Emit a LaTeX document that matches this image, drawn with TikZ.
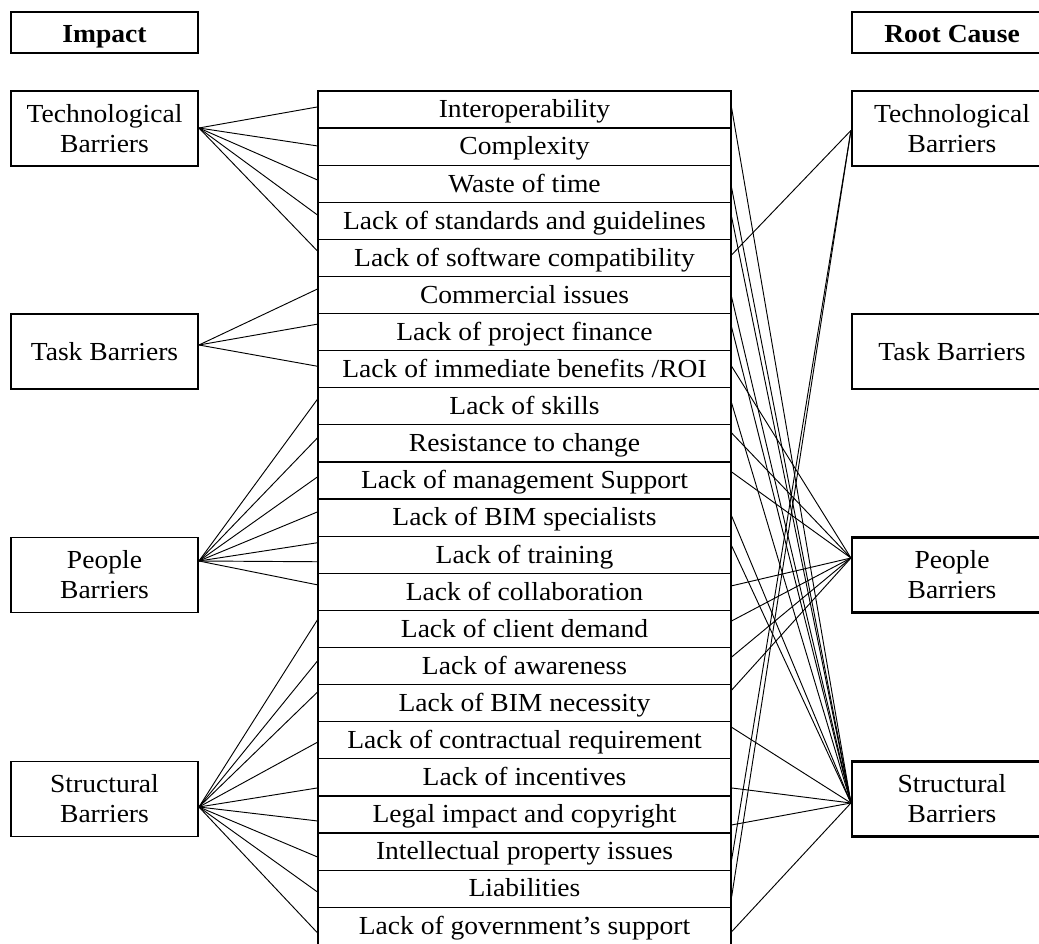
\documentclass[tikz,border=0pt]{standalone}
\usepackage{fontspec}
\setmainfont{Liberation Serif}[FakeStretch=1.06]
\usetikzlibrary{calc}
\begin{document}
\begin{tikzpicture}[x=0.75pt,y=-0.75pt,
  every node/.style={font=\fontsize{19.5}{22.5}\selectfont, text=black, inner sep=0pt},
  sidebox/.style={draw, line width=1.4pt, minimum width=140.25pt, minimum height=56.25pt, align=center},
  rsidebox/.style={sidebox, line width=1.6pt, minimum width=150pt},
  headbox/.style={draw, line width=1.4pt, minimum width=140.25pt, minimum height=30.75pt,
    text height=17pt, text depth=2pt, font=\fontsize{19.5}{22.5}\selectfont\bfseries},
  rowbox/.style={draw, line width=0.9pt, minimum width=309.75pt, minimum height=27.825pt,
    text height=16pt, text depth=3.5pt},
  conn/.style={line width=0.7pt}]
\clip (0,0) rectangle (1039,944);

% column headers
\node[headbox] (impact) at (104.5,32.5) {Impact};
\node[headbox, line width=1.6pt, minimum width=150pt] (root) at (952,32.5) {Root Cause};

% barrier categories, left (impact) and right (root cause)
\node[sidebox] (lT) at (104.5,128.5) {Technological\\Barriers};
\node[sidebox] (lK) at (104.5,351.5) {Task Barriers};
\node[sidebox] (lP) at (104.5,575) {People\\Barriers};
\node[sidebox] (lS) at (104.5,799) {Structural\\Barriers};
\node[rsidebox] (rT) at (952,128.5) {Technological\\Barriers};
\node[rsidebox] (rK) at (952,351.5) {Task Barriers};
\node[rsidebox] (rP) at (952,575) {People\\Barriers};
\node[rsidebox] (rS) at (952,799) {Structural\\Barriers};

% central list of barriers
\node[rowbox] (r1)  at (524.5,109.55) {Interoperability};
\node[rowbox] (r2)  at (524.5,146.65) {Complexity};
\node[rowbox] (r3)  at (524.5,183.75) {Waste of time};
\node[rowbox] (r4)  at (524.5,220.85) {Lack of standards and guidelines};
\node[rowbox] (r5)  at (524.5,257.95) {Lack of software compatibility};
\node[rowbox] (r6)  at (524.5,295.05) {Commercial issues};
\node[rowbox] (r7)  at (524.5,332.15) {Lack of project finance};
\node[rowbox] (r8)  at (524.5,369.25) {Lack of immediate benefits /ROI};
\node[rowbox] (r9)  at (524.5,406.35) {Lack of skills};
\node[rowbox] (r10) at (524.5,443.45) {Resistance to change};
\node[rowbox] (r11) at (524.5,480.55) {Lack of management Support};
\node[rowbox] (r12) at (524.5,517.65) {Lack of BIM specialists};
\node[rowbox] (r13) at (524.5,554.75) {Lack of training};
\node[rowbox] (r14) at (524.5,591.85) {Lack of collaboration};
\node[rowbox] (r15) at (524.5,628.95) {Lack of client demand};
\node[rowbox] (r16) at (524.5,666.05) {Lack of awareness};
\node[rowbox] (r17) at (524.5,703.15) {Lack of BIM necessity};
\node[rowbox] (r18) at (524.5,740.25) {Lack of contractual requirement};
\node[rowbox] (r19) at (524.5,777.35) {Lack of incentives};
\node[rowbox] (r20) at (524.5,814.45) {Legal impact and copyright};
\node[rowbox] (r21) at (524.5,851.55) {Intellectual property issues};
\node[rowbox] (r22) at (524.5,888.65) {Liabilities};
\node[rowbox] (r23) at (524.5,925.75) {Lack of government’s support};

% fan-out points on the category boxes
\coordinate (aLT) at ($(lT.east)+(0,-0.5)$);
\coordinate (aLK) at ($(lK.east)+(0,-6.5)$);
\coordinate (aLP) at ($(lP.east)+(0,-14)$);
\coordinate (aLS) at ($(lS.east)+(0,8)$);
\coordinate (aRT) at ($(rT.west)+(0,2)$);
\coordinate (aRP) at ($(rP.west)+(0,-17)$);
\coordinate (aRS) at ($(rS.west)+(0,4)$);

% impact links
\foreach \r/\d in {1/-2.6,2/-0.7,3/-3.8,4/-5.9,5/-7}
  \draw[conn] (aLT) -- ($(r\r.west)+(0,\d)$);
\foreach \r/\d in {6/-6,7/-8,8/-3}
  \draw[conn] (aLK) -- ($(r\r.west)+(0,\d)$);
\foreach \r/\d in {9/-7,10/-5.5,11/-3.6,12/-5.7,13/-12,13/7,14/-7}
  \draw[conn] (aLP) -- ($(r\r.west)+(0,\d)$);
\foreach \r/\d in {15/-9,16/-5,17/-11,18/2,19/10.6,20/6.5,21/5.4,22/3.3,23/7}
  \draw[conn] (aLS) -- ($(r\r.west)+(0,\d)$);

% root cause links
\foreach \r/\d in {5/-3,21/8.4,22/8.3}
  \draw[conn] ($(r\r.east)+(0,\d)$) -- (aRT);
\foreach \r/\d in {8/-3,10/-10.5,11/-8.6,14/-6,15/-8,16/-9,17/-13}
  \draw[conn] ($(r\r.east)+(0,\d)$) -- (aRP);
\foreach \r/\d in {1/-1.6,3/4,4/-4,6/2,7/-5,9/-3.4,12/-1.7,13/-9,18/-13,19/10.6,20/10.5,23/6}
  \draw[conn] ($(r\r.east)+(0,\d)$) -- (aRS);
\end{tikzpicture}
\end{document}
